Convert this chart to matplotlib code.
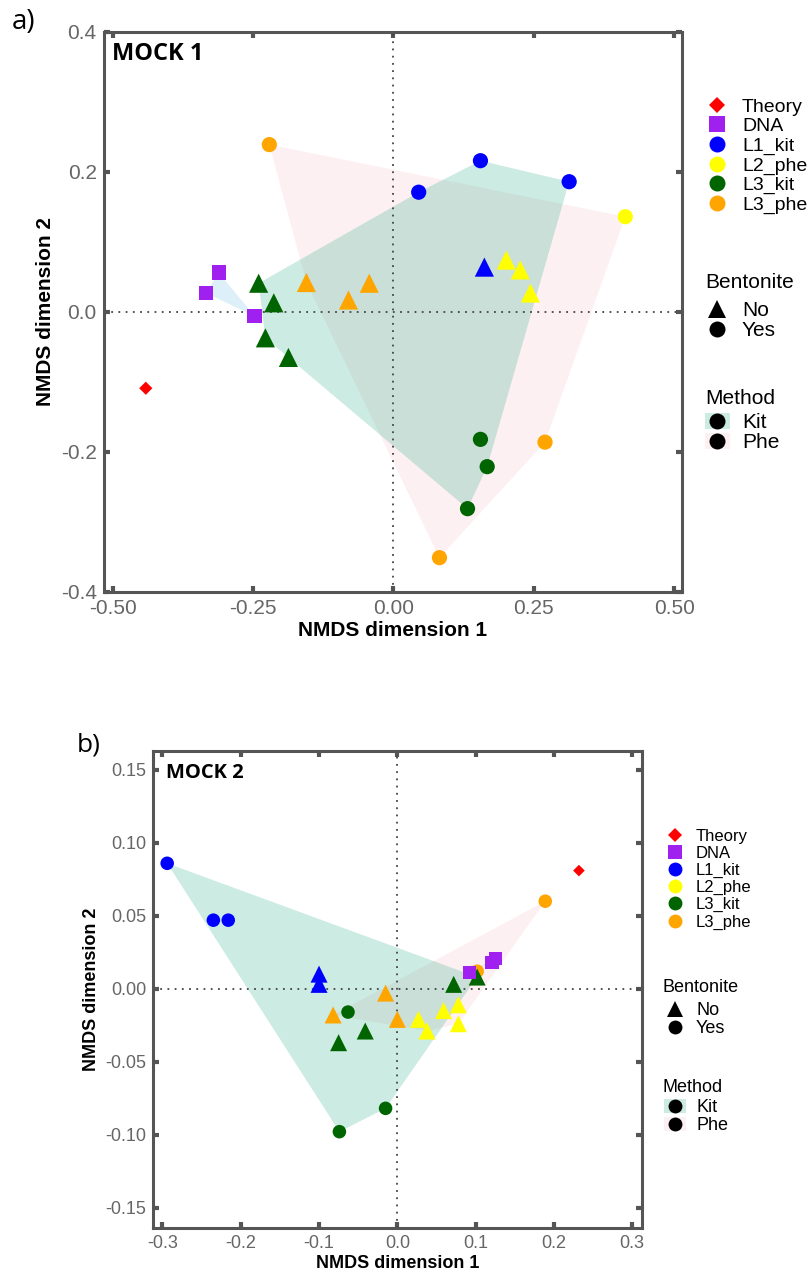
import numpy as np
import matplotlib.pyplot as plt
from matplotlib.lines import Line2D
from matplotlib.patches import Patch, Polygon

plt.rcParams['font.family'] = ['Liberation Sans', 'DejaVu Sans']

groups = ["Theory", "DNA", "L1_kit", "L2_phe", "L3_kit", "L3_phe"]
group_colors = ["#FF0000", "#A020F0", "#0000FF", "#FFFF00", "#006400", "#FFA500"]
methods = ["Kit", "Phe"]
method_fill = ["#009E73", "#F7B4C2"]
dna_fill = "#56B4E9"

# MOCK 1 (panel a)
a_group = ["Theory",
           "DNA", "DNA", "DNA",
           "L1_kit", "L1_kit", "L1_kit", "L1_kit",
           "L2_phe", "L2_phe", "L2_phe", "L2_phe",
           "L3_kit", "L3_kit", "L3_kit", "L3_kit", "L3_kit", "L3_kit", "L3_kit",
           "L3_phe", "L3_phe", "L3_phe", "L3_phe", "L3_phe", "L3_phe"]
a_bent = ["", "", "", "",
          "Yes", "Yes", "Yes", "No",
          "Yes", "No", "No", "No",
          "No", "No", "No", "No", "Yes", "Yes", "Yes",
          "Yes", "Yes", "Yes", "No", "No", "No"]
a_x = [-0.441,
       -0.311, -0.334, -0.247,
       0.155, 0.045, 0.313, 0.162,
       0.413, 0.201, 0.226, 0.244,
       -0.240, -0.213, -0.228, -0.187, 0.155, 0.167, 0.132,
       -0.221, 0.270, 0.082, -0.155, -0.080, -0.043]
a_y = [-0.109,
       0.056, 0.027, -0.006,
       0.216, 0.171, 0.186, 0.064,
       0.136, 0.074, 0.060, 0.027,
       0.041, 0.013, -0.037, -0.065, -0.182, -0.221, -0.281,
       0.239, -0.186, -0.351, 0.042, 0.017, 0.041]

# MOCK 2 (panel b)
b_group = ["Theory",
           "DNA", "DNA", "DNA",
           "L1_kit", "L1_kit", "L1_kit", "L1_kit", "L1_kit",
           "L2_phe", "L2_phe", "L2_phe", "L2_phe", "L2_phe",
           "L3_kit", "L3_kit", "L3_kit", "L3_kit", "L3_kit", "L3_kit", "L3_kit",
           "L3_phe", "L3_phe", "L3_phe", "L3_phe", "L3_phe"]
b_bent = ["", "", "", "",
          "Yes", "Yes", "Yes", "No", "No",
          "No", "No", "No", "No", "No",
          "No", "No", "No", "No", "Yes", "Yes", "Yes",
          "Yes", "Yes", "No", "No", "No"]
b_x = [0.232,
       0.125, 0.121, 0.092,
       -0.294, -0.235, -0.216, -0.100, -0.100,
       0.027, 0.038, 0.059, 0.078, 0.078,
       0.072, 0.102, -0.041, -0.075, -0.063, -0.015, -0.074,
       0.189, 0.102, -0.015, -0.082, 0.000]
b_y = [0.081,
       0.021, 0.018, 0.011,
       0.086, 0.047, 0.047, 0.010, 0.003,
       -0.021, -0.029, -0.015, -0.011, -0.024,
       0.003, 0.008, -0.029, -0.037, -0.016, -0.082, -0.098,
       0.060, 0.012, -0.003, -0.018, -0.021]


def convex_hull(pts):
    pts = sorted(set(pts))
    if len(pts) < 3:
        return pts

    def cross(o, a, b):
        return (a[0] - o[0]) * (b[1] - o[1]) - (a[1] - o[1]) * (b[0] - o[0])

    lower = []
    for p in pts:
        while len(lower) >= 2 and cross(lower[-2], lower[-1], p) <= 0:
            lower.pop()
        lower.append(p)
    upper = []
    for p in reversed(pts):
        while len(upper) >= 2 and cross(upper[-2], upper[-1], p) <= 0:
            upper.pop()
        upper.append(p)
    return lower[:-1] + upper[:-1]


def draw_panel(ax, gx, gy, gg, gb, sz, fs):
    gx = np.array(gx); gy = np.array(gy); gg = np.array(gg); gb = np.array(gb)

    # hulls: Phe, Kit, DNA
    hull_sets = [(["L2_phe", "L3_phe"], method_fill[1]),
                 (["L1_kit", "L3_kit"], method_fill[0]),
                 (["DNA"], dna_fill)]
    for names, col in hull_sets:
        m = np.isin(gg, names)
        h = convex_hull(list(zip(gx[m], gy[m])))
        ax.add_patch(Polygon(h, closed=True, facecolor=col, alpha=0.2,
                             edgecolor="none", zorder=1))

    ax.axhline(0, color="#444444", ls=(0, (1, 3)), lw=1.3, zorder=2)
    ax.axvline(0, color="#444444", ls=(0, (1, 3)), lw=1.3, zorder=2)

    order = ["L3_phe", "L2_phe", "L1_kit", "L3_kit", "DNA", "Theory"]
    for g in order:
        col = group_colors[groups.index(g)]
        for b, mk, s in [("No", "^", sz["tri"]), ("Yes", "o", sz["circ"])]:
            m = (gg == g) & (gb == b)
            if m.any():
                ax.scatter(gx[m], gy[m], marker=mk, s=s, color=col,
                           edgecolors="none", zorder=3)
        m = (gg == g) & (gb == "")
        if m.any():
            mk, s = ("D", sz["dia"]) if g == "Theory" else ("s", sz["sq"])
            ax.scatter(gx[m], gy[m], marker=mk, s=s, color=col,
                       edgecolors="none", zorder=3)

    for sp in ax.spines.values():
        sp.set_color("#555555")
        sp.set_linewidth(2.2)
    ax.tick_params(direction="in", length=4, width=3, color="#555555",
                   labelcolor="#666666", labelsize=fs, top=True, right=True,
                   labeltop=False, labelright=False, pad=5)
    ax.set_xlabel("NMDS dimension 1", fontsize=fs, fontweight="bold",
                  labelpad=2)
    ax.set_ylabel("NMDS dimension 2", fontsize=fs, fontweight="bold")


fig = plt.figure(figsize=(8.1, 12.75), dpi=100)

ax1 = fig.add_axes([0.128, 0.5357, 0.714, 0.4393])
draw_panel(ax1, a_x, a_y, a_group, a_bent,
           {"tri": 190, "circ": 120, "sq": 110, "dia": 45}, 15)
ax1.set_xlim(-0.516, 0.514)
ax1.set_ylim(-0.4, 0.4)
ax1.set_xticks([-0.50, -0.25, 0.00, 0.25, 0.50])
ax1.set_xticklabels(["-0.50", "-0.25", "0.00", "0.25", "0.50"])
ax1.set_yticks([-0.4, -0.2, 0.0, 0.2, 0.4])
ax1.set_yticklabels(["-0.4", "-0.2", "0.0", "0.2", "0.4"])
ax1.text(0.015, 0.982, "MOCK 1", transform=ax1.transAxes, ha="left", va="top",
         fontsize=17, fontweight="bold", family="Open Sans")

ax2 = fig.add_axes([0.189, 0.0369, 0.604, 0.3741])
draw_panel(ax2, b_x, b_y, b_group, b_bent,
           {"tri": 150, "circ": 95, "sq": 90, "dia": 35}, 13)
ax2.set_xlim(-0.312, 0.313)
ax2.set_ylim(-0.164, 0.163)
ax2.set_xticks([-0.3, -0.2, -0.1, 0.0, 0.1, 0.2, 0.3])
ax2.set_xticklabels(["-0.3", "-0.2", "-0.1", "0.0", "0.1", "0.2", "0.3"])
ax2.set_yticks([-0.15, -0.10, -0.05, 0.00, 0.05, 0.10, 0.15])
ax2.set_yticklabels(["-0.15", "-0.10", "-0.05", "0.00", "0.05", "0.10", "0.15"])
ax2.text(0.027, 0.975, "MOCK 2", transform=ax2.transAxes, ha="left", va="top",
         fontsize=14.5, fontweight="bold", family="Open Sans")

fig.text(12 / 810, 1 - 22 / 1275, "a)", fontsize=20, family="Open Sans",
         va="center", ha="left")
fig.text(77 / 810, 1 - 745 / 1275, "b)", fontsize=19, family="Open Sans",
         va="center", ha="left")


def legend_kw(fs, mx, tx, ls):
    # place the handle centre at mx and the label start at tx (pixels)
    fpx = fs * 100 / 72
    hl = 1.2
    x0 = mx - hl * fpx / 2
    tpad = (tx - x0 - hl * fpx) / fpx
    return x0, dict(loc="upper left", frameon=False, fontsize=fs, borderpad=0,
                    borderaxespad=0, handlelength=hl, handletextpad=tpad,
                    labelspacing=ls)


def add_legends(mx, tx, tops, titles_y, gfs, gls, fs, msz):
    px = lambda v: 1 - v / 1275
    grp_handles = []
    for g, c in zip(groups, group_colors):
        mk = {"Theory": "D", "DNA": "s"}.get(g, "o")
        ms = msz * (0.75 if g == "Theory" else 1.0)
        grp_handles.append(Line2D([], [], ls="none", marker=mk, color=c,
                                  markersize=ms, markeredgewidth=0))
    bent_handles = [Line2D([], [], ls="none", marker="^", color="black",
                           markersize=msz * 1.1, markeredgewidth=0),
                    Line2D([], [], ls="none", marker="o", color="black",
                           markersize=msz, markeredgewidth=0)]
    meth_handles = [(Patch(facecolor=c, alpha=0.2, edgecolor="none"),
                     Line2D([], [], ls="none", marker="o", color="black",
                            markersize=msz, markeredgewidth=0))
                    for c in method_fill]
    x0, kw = legend_kw(gfs, mx, tx, gls)
    fig.legend(grp_handles, groups, bbox_to_anchor=(x0 / 810, px(tops[0])), **kw)
    x0, kw = legend_kw(fs, mx, tx, 0.05)
    fig.legend(bent_handles, ["No", "Yes"],
               bbox_to_anchor=(x0 / 810, px(tops[1])), **kw)
    fig.legend(meth_handles, methods, handleheight=0.8,
               bbox_to_anchor=(x0 / 810, px(tops[2])), **kw)
    fig.text((mx - 12) / 810, px(titles_y[0]), "Bentonite", fontsize=fs,
             va="center", ha="left")
    fig.text((mx - 12) / 810, px(titles_y[1]), "Method", fontsize=fs,
             va="center", ha="left")


add_legends(717, 742, [98, 301, 413], [283, 398], 14, 0.1, 15, 11.5)
add_legends(675, 696, [829, 1002, 1099], [987, 1087], 12, 0.12, 13, 10)

fig.savefig("out.png", dpi=100)
